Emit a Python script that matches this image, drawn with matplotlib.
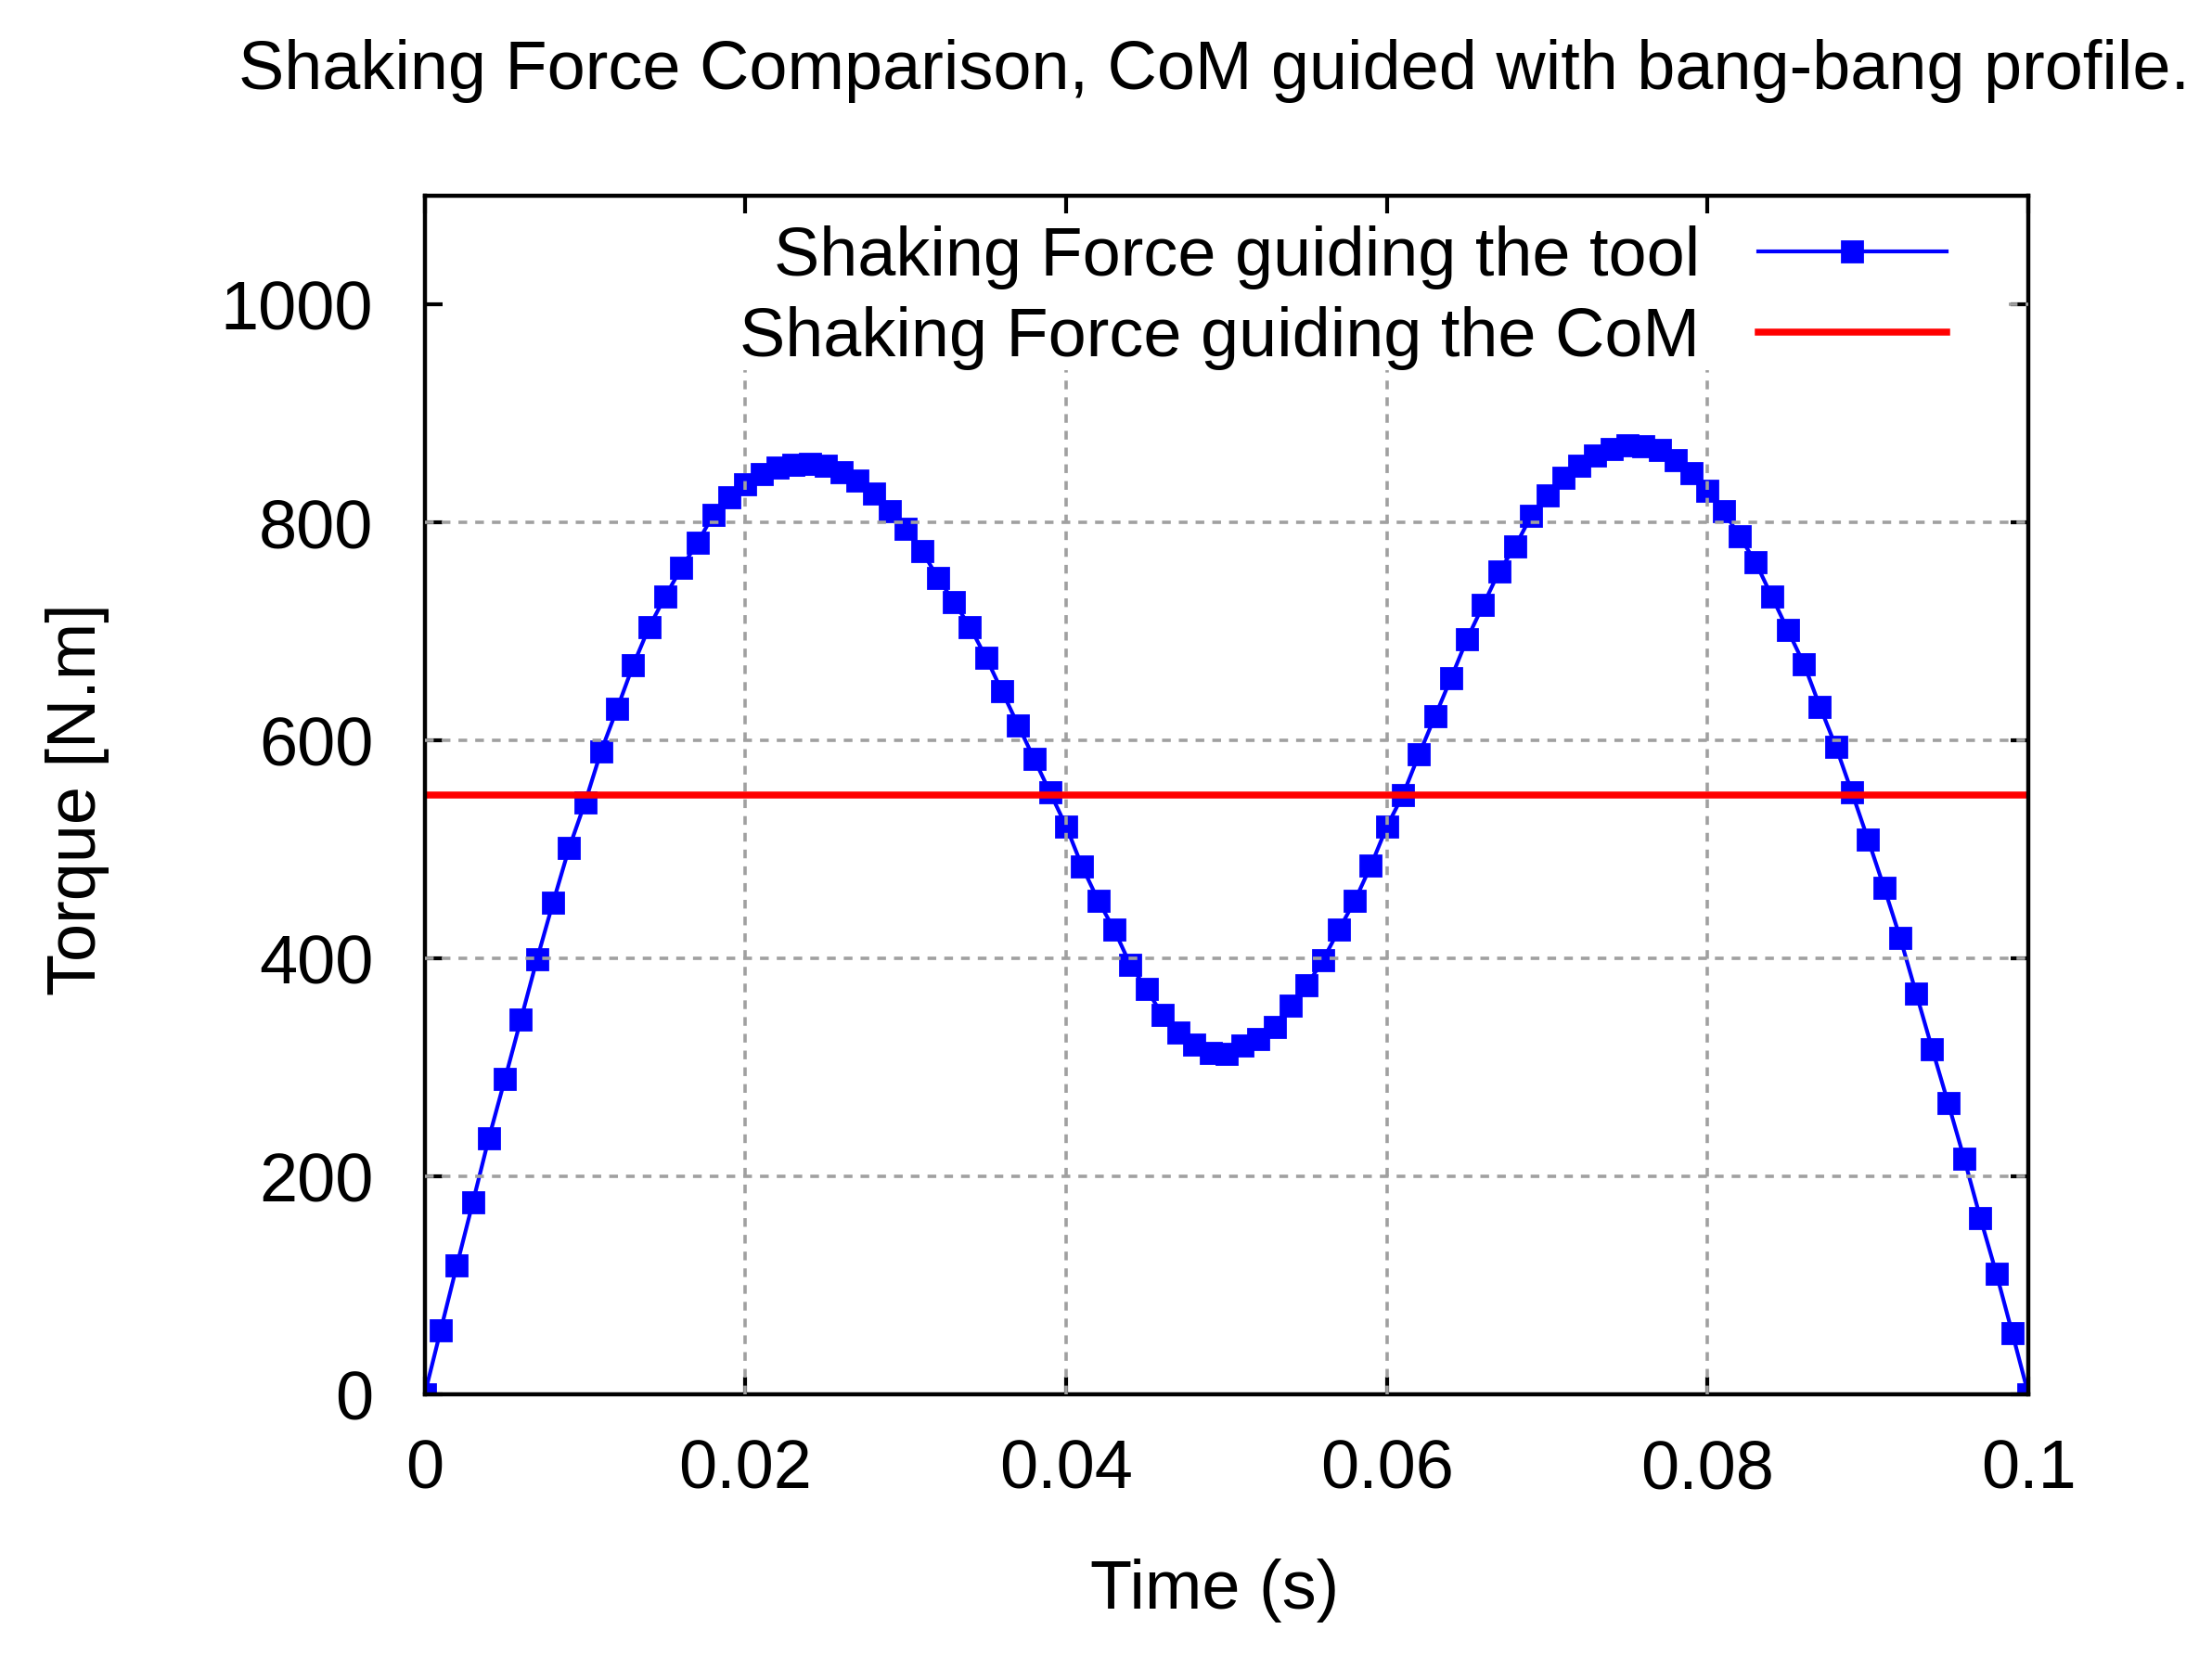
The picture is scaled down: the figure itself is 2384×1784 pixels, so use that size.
import matplotlib
matplotlib.use("Agg")
import matplotlib.pyplot as plt

# time axis in seconds, one sample per ms
time_ms = list(range(0, 101))
time_s = [t / 1000.0 for t in time_ms]

# shaking force when guiding the tool
force_tool = [
    0, 59, 118, 176, 235, 289, 344, 399, 451, 501,
    543, 590, 629, 669, 704, 732, 758, 781, 807, 823,
    835, 844, 850, 853, 854, 852, 846, 838, 826, 810,
    794, 774, 749, 727, 704, 676, 645, 614, 583, 552,
    521, 484, 453, 426, 394, 372, 348, 332, 321, 313,
    312, 320, 326, 337, 357, 375, 398, 426, 453, 485,
    521, 550, 587, 622, 657, 693, 724, 755, 778, 806,
    825, 841, 852, 861, 867, 871, 870, 866, 857, 845,
    829, 810, 787, 763, 732, 701, 670, 631, 594, 552,
    509, 465, 419, 368, 317, 267, 216, 162, 111, 56,
    0,
]

# shaking force when guiding the CoM (constant)
force_com = 550

x_ticks = [0, 0.02, 0.04, 0.06, 0.08, 0.1]
x_tick_labels = ["0", "0.02", "0.04", "0.06", "0.08", "0.1"]
y_ticks = [0, 200, 400, 600, 800, 1000]

title = "Shaking Force Comparison, CoM guided with bang-bang profile."
label_tool = "Shaking Force guiding the tool"
label_com = "Shaking Force guiding the CoM"

plt.rcParams["font.family"] = ["Liberation Sans", "DejaVu Sans"]
FS = 26.6

fig = plt.figure(figsize=(11.92, 8.92), dpi=200)
ax = fig.add_axes([0.192, 0.1575, 0.725, 0.7245])

ax.set_xlim(0, 0.1)
ax.set_ylim(0, 1100)

# curves
ax.plot(time_s, force_tool, color="#0000ff", lw=1.5, marker="s", ms=8,
        mec="#0000ff", mfc="#0000ff", label=label_tool, zorder=2)
ax.axhline(force_com, color="#ff0000", lw=2.7, label=label_com, zorder=2)

# grid drawn by hand: the key box hides it at the top of the frame
grid_kw = dict(color="#a0a0a0", lw=1.3, dashes=(2.6, 2.4), zorder=3)
for y in y_ticks[1:-1]:
    ax.axhline(y, **grid_kw)
ax.plot([0.0988, 0.1], [1000, 1000], **grid_kw)
for x in x_ticks[1:-1]:
    ax.plot([x, x], [0, 940], **grid_kw)

ax.set_xticks(x_ticks)
ax.set_xticklabels(x_tick_labels)
ax.set_yticks(y_ticks)
ax.tick_params(direction="in", length=7, width=1.5, labelsize=FS,
               top=True, right=True)
ax.tick_params(axis="x", pad=17)
ax.tick_params(axis="y", pad=20)
for s in ax.spines.values():
    s.set_linewidth(1.6)

ax.legend(loc="upper right", bbox_to_anchor=(0.949, 0.975), frameon=False,
          fontsize=FS, markerfirst=False, handlelength=2.75,
          handletextpad=0.85, labelspacing=0.25, borderpad=0,
          borderaxespad=0, numpoints=1)

fig.text(0.549, 0.957, title, fontsize=FS, ha="center", va="center")
fig.text(0.549, 0.039, "Time (s)", fontsize=FS, ha="center", va="center")
fig.text(0.035, 0.517, "Torque [N.m]", fontsize=FS, ha="center",
         va="center", rotation=90)

fig.savefig("out.png", dpi=200)
